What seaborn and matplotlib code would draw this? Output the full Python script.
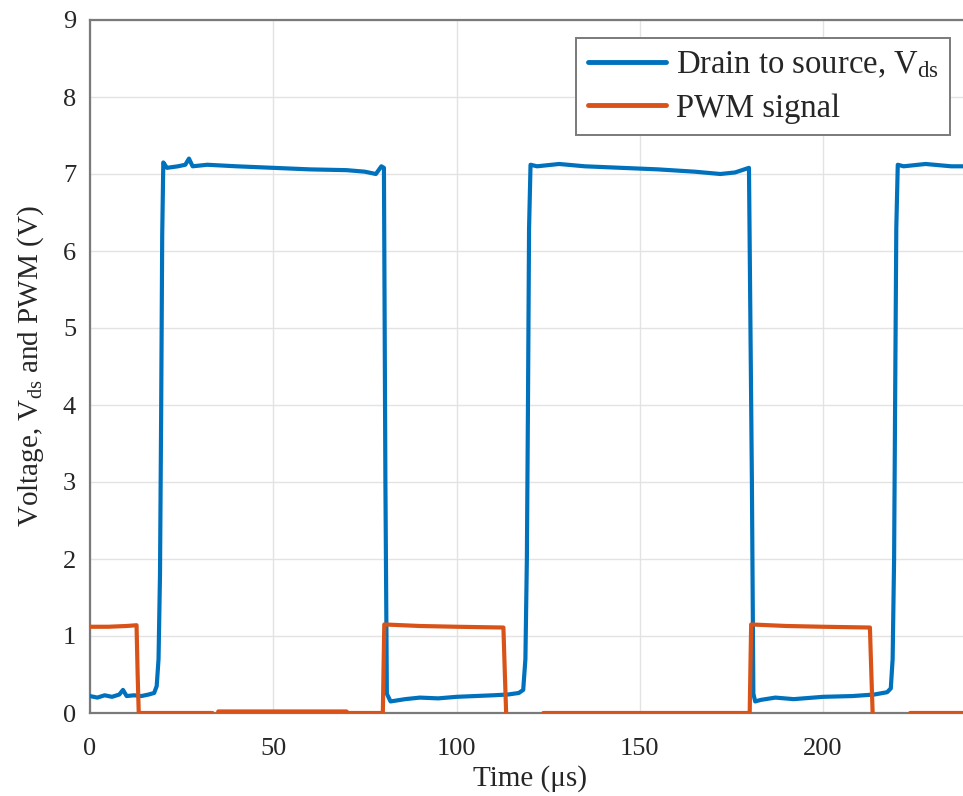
import numpy as np
import pandas as pd
import matplotlib
matplotlib.use("Agg")
import matplotlib.pyplot as plt
import seaborn as sns

# Drain to source voltage, breakpoints (time in us, volts)
vds_time = [0, 2, 4, 6, 8, 9, 10, 12, 14, 16, 17.5, 18.2, 18.7, 19.1, 19.4, 19.7, 20.0,
            21, 24, 26, 27, 28, 32, 40, 50, 60, 70, 75, 78, 79.5, 80.2, 80.6, 81.0, 82,
            86, 90, 95, 100, 105, 110, 114, 117, 118.2, 118.8, 119.2, 119.5, 119.8, 120.2,
            122, 128, 135, 145, 155, 165, 172, 176, 179.8, 180.6, 181.0, 181.5, 183,
            187, 192, 200, 208, 214, 217.5, 218.5, 219.0, 219.4, 219.7, 220.0, 220.4,
            222, 228, 235, 240]
vds_volt = [0.22, 0.2, 0.23, 0.21, 0.24, 0.3, 0.22, 0.23, 0.22, 0.24, 0.26, 0.35, 0.7, 1.8, 3.8, 6.2, 7.15,
            7.08, 7.1, 7.12, 7.2, 7.1, 7.12, 7.1, 7.08, 7.06, 7.05, 7.03, 7.0, 7.1, 7.08, 3.0, 0.25, 0.15,
            0.18, 0.2, 0.19, 0.21, 0.22, 0.23, 0.24, 0.26, 0.3, 0.7, 2.0, 4.0, 6.3, 7.12,
            7.1, 7.13, 7.1, 7.08, 7.06, 7.03, 7.0, 7.02, 7.08, 3.0, 0.25, 0.15, 0.17,
            0.2, 0.18, 0.21, 0.22, 0.24, 0.27, 0.32, 0.7, 2.0, 4.2, 6.3, 7.12,
            7.1, 7.13, 7.1, 7.1]

# PWM gate signal
pwm_time = [0, 5, 10, 12.7, 13.0, 13.3, 20, 33.4, 33.6, 34.8, 35.0, 50, 70, 70.2, 79.9, 80.1, 80.3,
            90, 100, 112.8, 113.2, 113.6, 123.5, 123.7, 140, 160, 180.0, 180.2, 180.4,
            190, 200, 212.8, 213.2, 213.6, 223.6, 223.8, 240]
pwm_volt = [1.12, 1.12, 1.13, 1.14, 0.5, 0.0, 0.0, 0.0, -0.08, -0.08, 0.02, 0.02, 0.02, 0.0, 0.0, 0.6, 1.15,
            1.13, 1.12, 1.11, 0.5, -0.08, -0.08, 0.0, 0.0, 0.0, 0.0, 0.6, 1.15,
            1.13, 1.12, 1.11, 0.5, -0.08, -0.08, 0.0, 0.0]

xticks = [0, 50, 100, 150, 200]
yticks = list(range(0, 10))

sns.set_theme(style="whitegrid")
plt.rcParams['font.family'] = ['Liberation Serif', 'DejaVu Serif']
plt.rcParams['mathtext.fontset'] = 'custom'
plt.rcParams['mathtext.rm'] = 'Liberation Serif'
plt.rcParams['mathtext.it'] = 'Liberation Serif'

blue = '#0072BD'
orange = '#D95319'
axis_grey = '#7a7a7a'

fig = plt.figure(figsize=(9.63, 7.96), dpi=100)
ax = fig.add_axes([90 / 963, 83 / 796, 240 * 3.665 / 963, 693 / 796])

df_vds = pd.DataFrame({"t": vds_time, "v": vds_volt})
df_pwm = pd.DataFrame({"t": pwm_time, "v": pwm_volt})

sns.lineplot(data=df_vds, x="t", y="v", ax=ax, color=blue, lw=3.0, zorder=3,
             estimator=None, sort=False, label="Drain to source, V$_{\\mathrm{ds}}$")
sns.lineplot(data=df_pwm, x="t", y="v", ax=ax, color=orange, lw=3.0, zorder=3,
             estimator=None, sort=False, label="PWM signal")

ax.set_xlim(0, 240)
ax.set_ylim(0, 9)
ax.set_xticks(xticks)
ax.set_yticks(yticks)
ax.set_facecolor('white')
ax.grid(True, color='#e3e3e3', lw=1.0)
for side in ['left', 'bottom', 'top', 'right']:
    ax.spines[side].set_visible(True)
    ax.spines[side].set_color(axis_grey)
    ax.spines[side].set_linewidth(1.6)
    ax.spines[side].set_zorder(2.5)
ax.tick_params(axis='both', direction='in', length=6, width=1.2, color=axis_grey,
               labelsize=19, labelcolor='#262626')
ax.tick_params(axis='x', pad=18)
ax.tick_params(axis='y', pad=10)
ax.set_xlabel("Time (\u03bcs)", fontsize=21, color='#262626', labelpad=4)
ax.set_ylabel("Voltage, V$_{\\mathrm{ds}}$ and PWM (V)", fontsize=21, color='#262626', labelpad=12)

leg = ax.legend(loc='upper right', bbox_to_anchor=(950 / 963, 1 - 38 / 796),
                bbox_transform=fig.transFigure, borderaxespad=0, fontsize=23.5,
                frameon=True, fancybox=False, handlelength=2.4, handletextpad=0.3,
                labelspacing=0.4, borderpad=0.35)
leg.get_frame().set_edgecolor(axis_grey)
leg.get_frame().set_linewidth(1.4)
leg.get_frame().set_facecolor('white')
leg.get_frame().set_alpha(1.0)
for line in leg.get_lines():
    line.set_linewidth(3.5)

fig.savefig("out.png", dpi=100)
